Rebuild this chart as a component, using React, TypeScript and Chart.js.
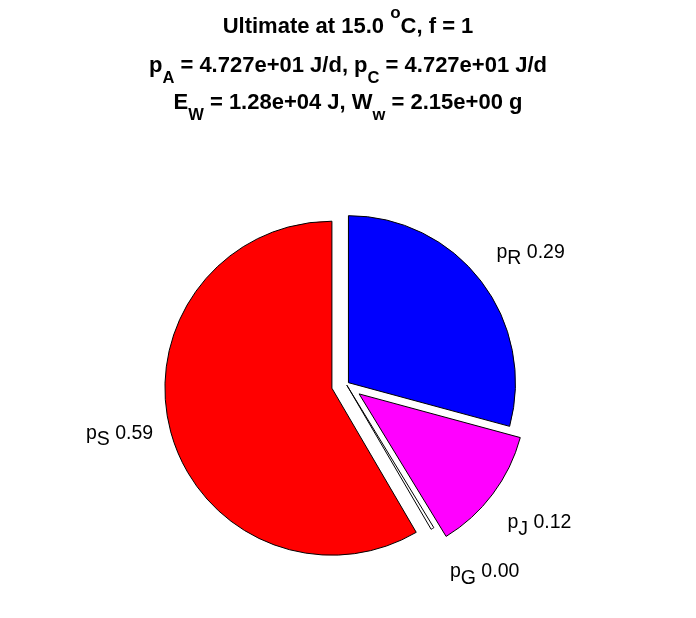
import React, { useEffect, useRef } from 'react';
import { Chart, PieController, ArcElement } from 'chart.js';

Chart.register(PieController, ArcElement);

// ---- data ----
const SLICE_NAMES = ['R', 'J', 'G', 'S'];
const SLICE_FRACTIONS = [0.293, 0.121, 0.003, 0.586];
const SLICE_COLORS = ['#0000ff', '#ff00ff', '#ffffff', '#ff0000'];

const TITLE_TEMP = '15.0';
const TITLE_F = '1';
const P_A = '4.727e+01';
const P_C = '4.727e+01';
const E_W = '1.28e+04';
const W_W = '2.15e+00';

// ---- style ----
const EXPLODE_PX = [2.7, 16, 1, 14.9];
const LABEL_SHIFT = [
  [23, -10],
  [20, 7],
  [35, 13],
  [-19, -9],
];
const LABEL_FONT = 19.5;
const FONT = '"Liberation Sans", Arial, Helvetica, sans-serif';

const explodePlugin = {
  id: 'explodePie',
  beforeDatasetDraw(chart: any, args: any) {
    const ctx = chart.ctx;
    args.meta.data.forEach((arc: any, i: number) => {
      const mid = (arc.startAngle + arc.endAngle) / 2;
      const d = EXPLODE_PX[i] || 0;
      ctx.save();
      ctx.translate(Math.cos(mid) * d, Math.sin(mid) * d);
      arc.draw(ctx);
      ctx.restore();
    });
    return false;
  },
  afterDraw(chart: any) {
    const meta = chart.getDatasetMeta(0);
    const ctx = chart.ctx;
    const f = LABEL_FONT;
    ctx.save();
    ctx.font = `${f}px ${FONT}`;
    ctx.fillStyle = '#000';
    ctx.textBaseline = 'alphabetic';
    ctx.textAlign = 'left';
    meta.data.forEach((arc: any, i: number) => {
      const mid = (arc.startAngle + arc.endAngle) / 2;
      const d = EXPLODE_PX[i] || 0;
      const r = arc.outerRadius;
      const ax = arc.x + Math.cos(mid) * (d + 1.2 * r) + LABEL_SHIFT[i][0];
      const ay = arc.y + Math.sin(mid) * (d + 1.2 * r) + LABEL_SHIFT[i][1];
      const t1 = 'p';
      const t2 = SLICE_NAMES[i];
      const t3 = ' ' + SLICE_FRACTIONS[i].toFixed(2);
      const w1 = ctx.measureText(t1).width;
      const w2 = ctx.measureText(t2).width;
      const w3 = ctx.measureText(t3).width;
      let x = ax - (w1 + w2 + w3) / 2;
      const base = ay + 0.358 * f;
      ctx.fillText(t1, x, base);
      x += w1;
      ctx.fillText(t2, x, base + 6.5);
      x += w2;
      ctx.fillText(t3, x, base);
    });
    ctx.restore();
  },
};

const lineStyle = (top: number): React.CSSProperties => ({
  position: 'absolute',
  left: 0,
  top,
  width: 696,
  textAlign: 'center',
  fontFamily: FONT,
  fontWeight: 'bold',
  fontSize: 22,
  lineHeight: '22px',
  whiteSpace: 'nowrap',
  color: '#000',
});

const Sub = ({ children }: { children: React.ReactNode }) => (
  <span style={{ position: 'relative', top: 10.6, fontSize: 16.5 }}>{children}</span>
);
const Sup = ({ children }: { children: React.ReactNode }) => (
  <span style={{ position: 'relative', top: -15, fontSize: 17 }}>{children}</span>
);

export default function App() {
  const ref = useRef<HTMLCanvasElement>(null);
  useEffect(() => {
    const chart = new Chart(ref.current as HTMLCanvasElement, {
      type: 'pie',
      data: {
        labels: SLICE_NAMES.map((n) => 'p' + n),
        datasets: [
          {
            data: SLICE_FRACTIONS,
            backgroundColor: SLICE_COLORS,
            borderColor: '#000000',
            borderWidth: 1,
            borderJoinStyle: 'miter',
            radius: 167,
          } as any,
        ],
      },
      options: {
        responsive: false,
        animation: false,
        events: [],
        layout: { padding: { left: 0, right: 3.4, top: 150.6, bottom: 0 } },
      } as any,
      plugins: [explodePlugin as any],
    });
    return () => chart.destroy();
  }, []);

  return (
    <div style={{ position: 'absolute', left: 0, top: 0, width: 696, height: 618, background: '#fff' }}>
      <canvas ref={ref} width={696} height={618} style={{ display: 'block', position: 'absolute', left: 0, top: 0 }} />
      <div style={lineStyle(14.7)}>
        Ultimate at {TITLE_TEMP} <Sup>o</Sup>C, f = {TITLE_F}
      </div>
      <div style={lineStyle(54.1)}>
        p<Sub>A</Sub> = {P_A} J/d, p<Sub>C</Sub> = {P_C} J/d
      </div>
      <div style={lineStyle(91.4)}>
        E<Sub>W</Sub> = {E_W} J, W<Sub>w</Sub> = {W_W} g
      </div>
    </div>
  );
}
